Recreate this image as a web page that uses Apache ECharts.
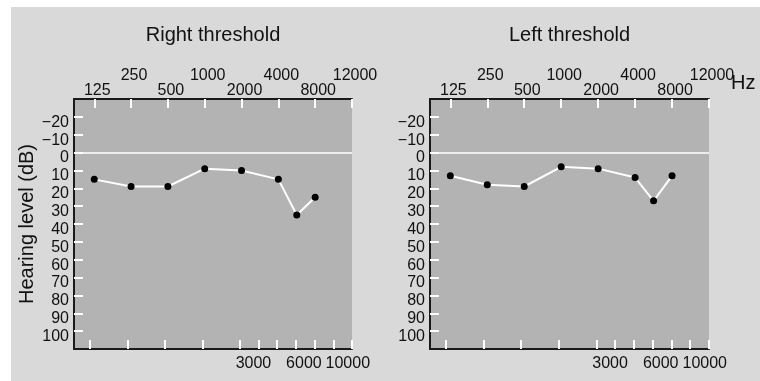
<!DOCTYPE html>
<html>
<head>
<meta charset="utf-8">
<script src="https://cdn.jsdelivr.net/npm/echarts@6/dist/echarts.min.js"></script>
<style>
  html, body { margin: 0; padding: 0; background: #ffffff; }
  #chart { width: 760px; height: 381px; }
</style>
</head>
<body>
<div id="chart"></div>
<script>
// Octave frequencies (Hz) labelled along the top edge of each audiogram
const octaveFreqs = [125, 250, 500, 1000, 2000, 4000, 8000, 12000];
// Inter-octave frequencies (Hz) labelled along the bottom edge
const midFreqs = [3000, 6000, 10000];
// Hearing level ticks (dB HL)
const dbTicks = [-20, -10, 0, 10, 20, 30, 40, 50, 60, 70, 80, 90, 100];

// Tested frequencies and measured thresholds (dB HL)
const testFreqs = [125, 250, 500, 1000, 2000, 4000, 6000, 8000];
const rightThreshold = [15, 19, 19, 9, 10, 15, 35, 25];
const leftThreshold = [13, 18, 19, 8, 9, 14, 27, 13];

const FONT = '"Liberation Sans", Arial, Helvetica, sans-serif';
const INK = '#111111';
const TICK_FONT = 16;
const TICK_COLOR = '#ffffff';

// Position of a frequency on the octave scale (one unit per octave,
// inter-octave frequencies sit halfway between their neighbours)
function slot(f) {
  const i = octaveFreqs.indexOf(f);
  if (i >= 0) return i;
  const j = octaveFreqs.findIndex(v => v > f);
  return j - 0.5;
}

const topTickValues = octaveFreqs.map(slot);
const lowerRowValues = topTickValues.filter((v, k) => k % 2 === 0);
const upperRowValues = topTickValues.filter((v, k) => k % 2 === 1);
const midTickValues = midFreqs.map(slot);
const bottomTickValues = topTickValues.concat(midTickValues).sort((a, b) => a - b);

const panels = [
  { title: 'Right threshold', left: 74, width: 278, values: rightThreshold, yName: 'Hearing level (dB)' },
  { title: 'Left threshold', left: 430, width: 279, values: leftThreshold, yName: '' }
];

function tokenStyle(padding) {
  return { fontFamily: FONT, fontSize: TICK_FONT, color: INK, padding: padding };
}

const grids = [], xAxes = [], yAxes = [], series = [], titles = [];

panels.forEach((p, i) => {
  grids.push({
    left: p.left, top: 99, width: p.width, height: 250,
    show: true, backgroundColor: '#b3b3b3', borderWidth: 0
  });

  // top frequency axis: line, octave ticks and the lower label row
  xAxes.push({
    type: 'value', gridIndex: i, position: 'top', z: 10,
    min: -0.55, max: 7,
    axisLine: { show: true, onZero: false, lineStyle: { color: '#1a1a1a', width: 2 } },
    axisTick: { show: true, inside: true, length: 9, customValues: topTickValues,
      lineStyle: { color: TICK_COLOR, width: 2 } },
    axisLabel: {
      customValues: lowerRowValues, margin: 0.5,
      showMinLabel: true, showMaxLabel: true, hideOverlap: false,
      formatter: v => '{t|' + octaveFreqs[Math.round(v)] + '}',
      rich: { t: tokenStyle([0, 0, 0, 6]) }
    },
    splitLine: { show: false }
  });

  // upper label row of the top frequency axis (staggered)
  xAxes.push({
    type: 'value', gridIndex: i, position: 'top', z: 10,
    min: -0.55, max: 7,
    axisLine: { show: false, onZero: false },
    axisTick: { show: false },
    axisLabel: {
      customValues: upperRowValues, margin: 15.5,
      showMinLabel: true, showMaxLabel: true, hideOverlap: false,
      formatter: v => '{t|' + octaveFreqs[Math.round(v)] + '}',
      rich: { t: tokenStyle([0, 0, 0, 6]) }
    },
    splitLine: { show: false }
  });

  // bottom frequency axis (octaves plus half-octave ticks)
  xAxes.push({
    type: 'value', gridIndex: i, position: 'bottom', z: 10,
    min: -0.43, max: 7,
    axisLine: { show: true, onZero: false, lineStyle: { color: '#1a1a1a', width: 2 } },
    axisTick: { show: true, inside: true, length: 9, customValues: bottomTickValues,
      lineStyle: { color: TICK_COLOR, width: 2 } },
    axisLabel: {
      customValues: midTickValues, margin: 7,
      showMinLabel: true, showMaxLabel: true, hideOverlap: false,
      formatter: v => {
        const k = midTickValues.indexOf(v);
        return '{m' + k + '|' + midFreqs[k] + '}';
      },
      rich: {
        m0: tokenStyle([0, 10, 0, 0]),
        m1: tokenStyle([0, 0, 0, 16]),
        m2: tokenStyle([0, 0, 0, 29])
      }
    },
    splitLine: { show: false }
  });

  yAxes.push({
    type: 'value', gridIndex: i, inverse: true, z: 10,
    min: -30, max: 110,
    name: p.yName, nameLocation: 'middle', nameGap: 37,
    nameTextStyle: { fontFamily: FONT, fontSize: 20, color: INK },
    axisLine: { show: true, onZero: false, lineStyle: { color: '#1a1a1a', width: 2 } },
    axisTick: { show: true, inside: true, length: 9, customValues: dbTicks,
      lineStyle: { color: TICK_COLOR, width: 2 } },
    axisLabel: {
      customValues: dbTicks, margin: 5,
      showMinLabel: true, showMaxLabel: true, hideOverlap: false,
      formatter: v => '{d|' + (v < 0 ? '\u2212' + Math.abs(v) : String(v)) + '}',
      rich: { d: tokenStyle([11, 0, 0, 0]) }
    },
    splitLine: { show: false }
  });

  series.push({
    type: 'line',
    xAxisIndex: 3 * i, yAxisIndex: i,
    data: testFreqs.map((f, k) => [slot(f), p.values[k]]),
    symbol: 'circle', symbolSize: 7,
    itemStyle: { color: '#000000' },
    lineStyle: { color: '#ffffff', width: 2 },
    z: 5,
    markLine: {
      silent: true, symbol: ['none', 'none'],
      label: { show: false },
      lineStyle: { color: '#ffffff', width: 1.5, type: 'solid' },
      data: [{ yAxis: 0 }]
    }
  });

  titles.push({
    text: p.title, left: p.left + p.width / 2, top: 25,
    textAlign: 'center', padding: 0,
    textStyle: { fontFamily: FONT, fontSize: 20, fontWeight: 'normal', color: INK }
  });
});

titles.push({
  text: 'Hz', left: 731, top: 73, padding: 0,
  textStyle: { fontFamily: FONT, fontSize: 20, fontWeight: 'normal', color: INK }
});

const chart = echarts.init(document.getElementById('chart'), null, { renderer: 'canvas' });
chart.setOption({
  animation: false,
  backgroundColor: '#d9d9d9',
  title: titles,
  grid: grids,
  xAxis: xAxes,
  yAxis: yAxes,
  series: series,
  graphic: [
    { type: 'rect', left: 0, top: 0, shape: { width: 760, height: 7 }, style: { fill: '#ffffff' }, z: 100 },
    { type: 'rect', left: 0, top: 0, shape: { width: 11, height: 381 }, style: { fill: '#ffffff' }, z: 100 }
  ]
});
</script>
</body>
</html>
